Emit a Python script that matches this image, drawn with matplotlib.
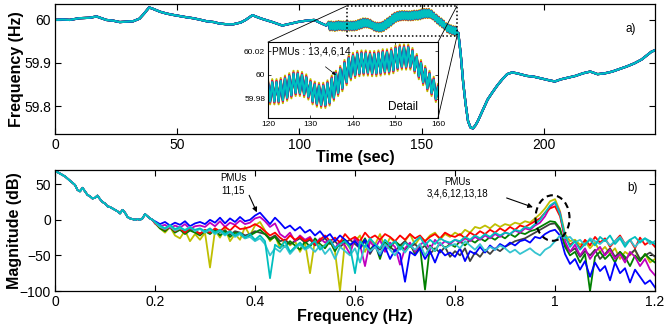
import numpy as np
import matplotlib
matplotlib.use("Agg")
import matplotlib.pyplot as plt
from matplotlib.patches import Rectangle, Ellipse, ConnectionPatch

plt.rcParams['font.family'] = ['Liberation Sans', 'DejaVu Sans']

# ---------------- data: top panel (frequency vs time) ----------------
t_pre = [0, 3, 6, 10, 14, 17, 21, 24, 26.5, 29, 32, 34.6, 36.5, 38.5, 40, 43, 45.5, 48, 51, 54,
         56.5, 59, 62, 65, 67, 70, 73, 76, 78, 80.8, 83, 85, 89, 93, 97, 100, 102.5, 106, 109, 111]
f_pre = [60.000, 60.001, 60.000, 60.004, 60.005, 60.008, 60.000, 59.998, 59.995, 59.996,
         59.997, 60.003, 60.015, 60.029, 60.026, 60.019, 60.015, 60.012, 60.009, 60.006,
         60.004, 60.001, 59.997, 59.995, 59.992, 59.990, 59.990, 59.994, 60.000, 60.011,
         60.006, 60.002, 59.995, 59.987, 59.992, 59.996, 59.998, 60.000, 59.992, 59.987]

# oscillation window: centre of the 1 Hz band, read once per second (112 .. 164 s)
t_osc = list(range(112, 165))
f_osc = [59.986, 59.986, 59.985, 59.986, 59.987, 59.986, 59.986, 59.986, 59.986, 59.986,
         59.986, 59.987, 59.989, 59.991, 59.993, 59.993, 59.992, 59.990, 59.986, 59.984,
         59.983, 59.983, 59.985, 59.989, 59.993, 59.997, 60.002, 60.006, 60.008, 60.0095,
         60.010, 60.010, 60.0095, 60.0095, 60.010, 60.011, 60.011, 60.012, 60.014, 60.015,
         60.015, 60.015, 60.012, 60.007, 60.002, 59.997, 59.993, 59.988, 59.982, 59.979,
         59.977, 59.975, 59.974]

t_post = [165, 166, 167, 168, 169, 170, 171, 172, 173, 175, 177, 179, 181, 183, 185, 187, 189,
          191, 193, 196, 199, 202, 204.5, 207, 210, 213, 216, 219, 222, 225, 228, 231, 234,
          237, 240, 242, 244, 246]
f_post = [59.970, 59.920, 59.855, 59.805, 59.765, 59.750, 59.748, 59.755, 59.765, 59.790,
          59.815, 59.832, 59.848, 59.862, 59.874, 59.878, 59.876, 59.873, 59.870, 59.868,
          59.864, 59.860, 59.857, 59.862, 59.866, 59.870, 59.876, 59.880, 59.874, 59.876,
          59.880, 59.886, 59.892, 59.899, 59.908, 59.917, 59.926, 59.931]

# PMU colours and half peak-to-peak of the 1 Hz oscillation (Hz) read from the detail
pmu_colors = ['#bfbf00', '#ff0000', '#008000', '#bf00bf', '#404040', '#0000ff', '#00bfbf']
osc_half = [0.0105, 0.0090, 0.0080, 0.0085, 0.0075, 0.0070, 0.0080]

# ---------------- data: bottom panel (spectrum) ----------------
mag_low = [68, 67, 65, 63, 61, 58, 55, 52, 49, 42, 40, 45, 40, 35, 33, 30, 31, 34, 29, 25,
           23, 19, 18, 16, 14, 12, 9, 14, 10, 4, 2, 1, 0, 1, 0, 2, 8, 5, 2, 0]

mag_y = [-5, -12, -18, -10, -22, -26, -15, -30, -20, -28,
         -18, -67, -15, -25, -12, -30, -20, -28, -10, -22,
         -8, -3, -15, -30, -22, -40, -28, -36, -30, -45,
         -32, -75, -28, -40, -35, -30, -45, -100, -30, -40,
         -30, -22, -45, -28, -35, -20, -40, -25, -32, -38,
         -30, -20, -35, -25, -30, -22, -18, -28, -20, -24,
         -18, -22, -14, -18, -10, -12, -8, -12, -6, -10,
         -6, -8, -4, -6, -2, -4, 2, 8, 16, 26,
         29, 12, -20, -30, -28, -35, -30, -40, -32, -45,
         -38, -48, -40, -55, -45, -50, -42, -58, -48, -60, -55]
mag_k = [-4, -10, -14, -9, -15, -12, -17, -13, -16, -19,
         -15, -19, -13, -18, -15, -21, -16, -18, -22, -20,
         -16, -18, -20, -26, -22, -30, -28, -34, -30, -26,
         -32, -28, -36, -30, -26, -34, -30, -38, -32, -28,
         -34, -40, -30, -48, -36, -42, -32, -38, -44, -36,
         -30, -38, -34, -42, -36, -48, -40, -46, -38, -52,
         -44, -50, -40, -58, -46, -52, -42, -48, -40, -44,
         -38, -34, -30, -28, -26, -22, -18, -14, -10, -6,
         -5, -15, -35, -45, -40, -52, -44, -50, -42, -55,
         -48, -40, -52, -45, -56, -48, -42, -55, -50, -46, -52]
mag_g = [-4, -12, -16, -10, -18, -14, -20, -15, -18, -22,
         -16, -20, -14, -22, -16, -24, -18, -20, -26, -22,
         -18, -14, -20, -28, -24, -34, -38, -30, -36, -42,
         -30, -38, -26, -34, -40, -30, -44, -32, -28, -36,
         -30, -38, -26, -42, -34, -55, -32, -40, -30, -36,
         -42, -34, -48, -38, -98, -36, -44, -32, -40, -34,
         -38, -30, -36, -28, -32, -26, -30, -24, -28, -22,
         -26, -20, -24, -18, -20, -16, -14, -10, -6, -2,
         -3, -12, -38, -50, -45, -60, -48, -100, -52, -45,
         -55, -48, -60, -45, -52, -65, -50, -58, -48, -55, -60]
mag_m = [-5, -9, -7, -12, -8, -11, -6, -13, -9, -8,
         -10, -4, -9, -2, -10, -4, -7, -1, -6, -4,
         2, 4, -2, -10, -5, -20, -25, -18, -30, -22,
         -28, -24, -35, -26, -32, -28, -40, -30, -36, -48,
         -25, -35, -65, -30, -40, -28, -45, -32, -38, -63,
         -40, -32, -45, -35, -30, -42, -28, -36, -30, -34,
         -28, -32, -26, -30, -24, -28, -22, -26, -20, -24,
         -18, -20, -15, -18, -12, -14, -8, -4, 5, 18,
         24, 10, -30, -45, -35, -50, -40, -55, -45, -38,
         -50, -42, -55, -48, -60, -45, -52, -65, -55, -70, -78]
mag_r = [-5, -10, -14, -9, -16, -12, -18, -11, -15, -20,
         -14, -18, -12, -16, -10, -15, -8, -13, -12, -10,
         -6, -10, -16, -22, -18, -25, -30, -22, -28, -24,
         -30, -26, -35, -28, -22, -30, -25, -32, -20, -28,
         -24, -30, -18, -26, -22, -28, -20, -24, -30, -22,
         -28, -20, -26, -22, -30, -24, -20, -26, -18, -22,
         -24, -20, -26, -18, -22, -16, -20, -14, -18, -12,
         -16, -10, -14, -8, -10, -6, -2, 2, 10, 16,
         19, 5, -25, -35, -30, -40, -28, -36, -24, -32,
         -26, -38, -30, -22, -34, -28, -40, -25, -35, -30, -38]
mag_b = [-2, -6, -3, -8, -4, -7, -2, -9, -5, -3,
         -6, 0, -4, 3, -5, 2, -3, 4, -2, 0,
         6, 10, 2, -6, 3, -4, -12, -8, -15, -10,
         -18, -14, -22, -16, -25, -20, -30, -22, -28, -35,
         -30, -40, -28, -45, -35, -50, -38, -55, -42, -48,
         -87, -45, -50, -40, -55, -44, -60, -42, -50, -46,
         -52, -40, -58, -44, -48, -38, -46, -36, -42, -34,
         -38, -32, -36, -30, -28, -32, -24, -26, -20, -16,
         -14, -22, -48, -62, -55, -70, -58, -80, -60, -72,
         -65, -85, -60, -75, -68, -88, -70, -80, -90, -85, -95]
mag_c2 = [-4, -10, -13, -9, -15, -12, -14, -10, -16, -13,
          -18, -14, -20, -16, -22, -17, -24, -20, -26, -24,
          -30, -26, -34, -50, -40, -45, -36, -48, -40, -35,
          -42, -38, -45, -36, -48, -40, -55, -38, -44, -50,
          -40, -60, -36, -44, -38, -48, -34, -42, -50, -38,
          -46, -36, -42, -34, -50, -38, -44, -32, -40, -36,
          -34, -40, -30, -36, -42, -34, -44, -38, -42, -36,
          -40, -46, -42, -48, -44, -40, -46, -50, -42, -38,
          -30, -22, -26, -24, -32, -28, -36, -26, -30, -34,
          -28, -36, -30, -24, -34, -28, -38, -30, -26, -34, -30]
mag_c = [-3, -8, -12, -7, -13, -10, -15, -11, -14, -12,
         -16, -12, -18, -14, -20, -16, -22, -18, -25, -20,
         -28, -22, -30, -82, -35, -40, -30, -45, -38, -32,
         -40, -35, -30, -42, -36, -28, -40, -34, -30, -38,
         -75, -30, -38, -26, -34, -40, -28, -36, -30, -42,
         -32, -38, -30, -24, -36, -28, -34, -26, -30, -32,
         -28, -30, -24, -28, -22, -26, -20, -24, -18, -22,
         -18, -20, -14, -16, -10, -12, -6, 0, 10, 20,
         25, 8, -22, -38, -30, -42, -34, -28, -36, -24,
         -30, -22, -34, -26, -38, -28, -24, -32, -26, -30, -34]

spec_series = [(mag_y, '#bfbf00'), (mag_k, '#404040'), (mag_g, '#008000'),
               (mag_m, '#bf00bf'), (mag_r, '#ff0000'), (mag_b, '#0000ff'),
               (mag_c2, '#35c4d0'), (mag_c, '#00bfbf')]

# ---------------- figure ----------------
fig = plt.figure(figsize=(6.65, 3.28), dpi=100)
ax1 = fig.add_axes([0.0827, 0.5915, 0.9023, 0.3963])
ax2 = fig.add_axes([0.0827, 0.1128, 0.9023, 0.3689])


def pmu_series(amp):
    tt = list(t_pre)
    ff = list(f_pre)
    for t, c in zip(t_osc, f_osc):
        tt += [t, t + 0.5]
        ff += [c + amp, c - amp]
    tt += t_post
    ff += f_post
    return tt, ff


series_top = [pmu_series(a) for a in osc_half]
for (tt, ff), col in zip(series_top, pmu_colors):
    ax1.plot(tt, ff, color=col, lw=1.6)

ax1.set_xlim(0, 245.5)
ax1.set_ylim(59.735, 60.037)
ax1.set_xticks([0, 50, 100, 150, 200])
ax1.set_yticks([59.8, 59.9, 60])
ax1.set_yticklabels(['59.8', '59.9', '60'])
ax1.set_xlabel('Time (sec)', fontsize=11.5, fontweight='bold')
ax1.set_ylabel('Frequency (Hz)', fontsize=11.5, fontweight='bold')
ax1.xaxis.set_label_coords(0.5, -0.12)
ax1.yaxis.set_label_coords(-0.052, 0.5)
ax1.text(235.5, 59.978, 'a)', fontsize=8.5, ha='center', va='center')

# dotted detail rectangle
rx0, rx1, ry0, ry1 = 119.5, 164.5, 59.963, 60.033
ax1.add_patch(Rectangle((rx0, ry0), rx1 - rx0, ry1 - ry0, fill=False,
                        ls=(0, (1, 1.5)), lw=1.1, color='k', zorder=5))

# inset
axins = fig.add_axes([0.403, 0.640, 0.2556, 0.2317])
for (tt, ff), col in zip(series_top, pmu_colors):
    axins.plot(tt, ff, color=col, lw=1.5)
axins.set_xlim(120, 160)
axins.set_ylim(59.964, 60.0275)
axins.set_xticks([120, 130, 140, 150, 160])
axins.set_yticks([59.98, 60.0, 60.02])
axins.set_yticklabels(['59.98', '60', '60.02'])
axins.tick_params(labelsize=6, direction='in', length=2, width=0.5,
                  top=True, right=True, pad=2)
for s in axins.spines.values():
    s.set_linewidth(0.8)
axins.text(120.9, 60.0195, 'PMUs : 13,4,6,14', fontsize=7.3, ha='left', va='center')
axins.annotate('', xy=(136.5, 59.9986), xytext=(133.0, 60.0083),
               arrowprops=dict(arrowstyle='-|>', color='k', lw=0.5, mutation_scale=5))
axins.text(151.7, 59.9736, 'Detail', fontsize=8.5, ha='center', va='center')

for (xa, ya), (xb, yb) in [((0, 1), (rx0, ry1)), ((1, 1), (rx1, ry1)), ((1, 0), (rx1, ry0))]:
    con = ConnectionPatch(xyA=(xa, ya), coordsA=axins.transAxes,
                          xyB=(xb, yb), coordsB=ax1.transData,
                          color='k', lw=0.6)
    fig.add_artist(con)

# bottom panel
f_low = np.round(np.arange(0, 0.2, 0.005), 3)
f_high = np.round(np.arange(0.2, 1.2001, 0.01), 2)
freq = np.concatenate([f_low, f_high])
for vals, col in spec_series:
    ax2.plot(freq, mag_low + vals, color=col, lw=1.3)

ax2.set_xlim(0, 1.2)
ax2.set_ylim(-100, 70)
ax2.set_xticks([0, 0.2, 0.4, 0.6, 0.8, 1.0, 1.2])
ax2.set_xticklabels(['0', '0.2', '0.4', '0.6', '0.8', '1', '1.2'])
ax2.set_yticks([-100, -50, 0, 50])
ax2.set_xlabel('Frequency (Hz)', fontsize=11.5, fontweight='bold')
ax2.set_ylabel('Magnitude (dB)', fontsize=11.5, fontweight='bold')
ax2.xaxis.set_label_coords(0.5, -0.145)
ax2.yaxis.set_label_coords(-0.055, 0.5)
ax2.text(1.155, 45, 'b)', fontsize=8.5, ha='center', va='center')

ax2.text(0.356, 50, 'PMUs\n11,15', fontsize=7, ha='center', va='center', linespacing=1.2)
ax2.annotate('', xy=(0.406, 7), xytext=(0.386, 38),
             arrowprops=dict(arrowstyle='-|>', color='k', lw=0.8, mutation_scale=7))
ax2.text(0.805, 45, 'PMUs\n3,4,6,12,13,18', fontsize=7, ha='center', va='center',
         linespacing=1.2)
ax2.annotate('', xy=(0.961, 16.4), xytext=(0.898, 32),
             arrowprops=dict(arrowstyle='-|>', color='k', lw=0.8, mutation_scale=7))
ax2.add_patch(Ellipse((0.995, 2.5), width=0.068, height=64, fill=False,
                      ls=(0, (3, 2)), lw=1.5, color='k', zorder=6))

for ax in (ax1, ax2):
    ax.tick_params(labelsize=10, direction='in', length=4, width=0.8,
                   top=True, right=True, pad=3)
    for s in ax.spines.values():
        s.set_linewidth(0.9)

fig.savefig('out.png', dpi=100)
